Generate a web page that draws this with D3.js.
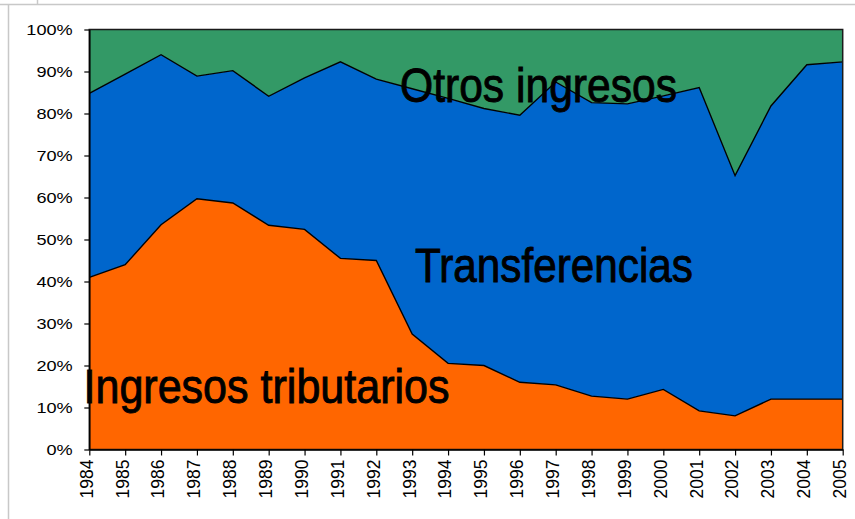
<!DOCTYPE html>
<html>
<head>
<meta charset="utf-8">
<script src="https://cdn.jsdelivr.net/npm/d3@7"></script>
<style>
  body { margin: 0; background: #fff; }
  svg { display: block; }
</style>
</head>
<body>
<div class="chart"></div>
<script>
const width = 855;
const height = 519;
const padLeft = 89.3, padRight = 842.7, padTop = 29.5, padBottom = 449.5;

// valores (% del total)
const years = [1984, 1985, 1986, 1987, 1988, 1989, 1990, 1991, 1992, 1993, 1994,
  1995, 1996, 1997, 1998, 1999, 2000, 2001, 2002, 2003, 2004, 2005];
const tributarios = [41.0, 44.0, 53.5, 59.7, 58.7, 53.4, 52.4, 45.5, 45.0, 27.5, 20.5,
  20.0, 16.0, 15.4, 12.7, 12.0, 14.3, 9.2, 8.0, 12.0, 12.0, 12.0];
const transferencias = [43.8, 45.4, 40.5, 29.2, 31.5, 30.7, 36.1, 46.8, 43.2, 58.4, 63.1,
  61.2, 63.6, 72.1, 69.9, 70.3, 69.9, 77.0, 57.2, 69.8, 79.6, 80.3];
const otros = [15.2, 10.6, 6.0, 11.1, 9.8, 15.9, 11.5, 7.7, 11.8, 14.1, 16.4,
  18.8, 20.4, 12.5, 17.4, 17.7, 15.8, 13.8, 34.8, 18.2, 8.4, 7.7];
const yTicks = [0, 0.1, 0.2, 0.3, 0.4, 0.5, 0.6, 0.7, 0.8, 0.9, 1];

const keys = ["tributarios", "transferencias", "otros"];
const colors = { tributarios: "#ff6600", transferencias: "#0066cc", otros: "#339966" };

var rows = years.map((y, i) => {
  return {
    year: y,
    tributarios: tributarios[i],
    transferencias: transferencias[i],
    otros: otros[i],
  };
});

let svg = d3
  .select(".chart")
  .append("svg")
  .attr("width", width)
  .attr("height", height);

// marco gris de la hoja
svg.append("line").attr("x1", 0).attr("x2", width).attr("y1", 4.5).attr("y2", 4.5)
  .attr("stroke", "#c8c8c8").attr("stroke-width", 1.5);
svg.append("line").attr("x1", 8.5).attr("x2", 8.5).attr("y1", 4.5).attr("y2", height)
  .attr("stroke", "#c8c8c8").attr("stroke-width", 1.5);
svg.append("line").attr("x1", 37.5).attr("x2", 37.5).attr("y1", 0).attr("y2", 4.5)
  .attr("stroke", "#c8c8c8").attr("stroke-width", 1.5);

let xScale = d3.scalePoint().domain(years).range([padLeft, padRight]);
let yScale = d3.scaleLinear().domain([0, 1]).range([padBottom, padTop]);

// normalizar al 100%
let stack = d3.stack().keys(keys).offset(d3.stackOffsetExpand);
let series = stack(rows);

let area = d3
  .area()
  .x((d) => xScale(d.data.year))
  .y0((d) => yScale(d[0]))
  .y1((d) => yScale(d[1]));

let line = d3
  .line()
  .x((d) => xScale(d.data.year))
  .y((d) => yScale(d[1]));

svg
  .append("g")
  .selectAll("path")
  .data(series)
  .enter()
  .append("path")
  .attr("d", area)
  .attr("fill", (d) => colors[d.key]);

svg
  .append("g")
  .selectAll("path")
  .data(series.slice(0, 2))
  .enter()
  .append("path")
  .attr("d", line)
  .attr("fill", "none")
  .attr("stroke", "#000")
  .attr("stroke-width", 1.4);

// borde del area de trazado
svg
  .append("rect")
  .attr("x", padLeft)
  .attr("y", padTop)
  .attr("width", padRight - padLeft)
  .attr("height", padBottom - padTop)
  .attr("fill", "none")
  .attr("stroke", "#1a1a1a")
  .attr("stroke-width", 1.5);

// eje Y
let yAxis = d3.axisLeft(yScale).tickValues(yTicks).tickFormat(d3.format(".0%")).tickSize(5).tickSizeOuter(0);
let gy = svg.append("g").attr("transform", "translate(" + padLeft + ",0)").call(yAxis);
gy.select(".domain").attr("stroke", "#000").attr("stroke-width", 1.5);
gy.selectAll(".tick line").attr("stroke", "#000").attr("stroke-width", 1.2);
gy.selectAll(".tick text")
  .attr("x", 0)
  .attr("dy", "0.36em")
  .attr("transform", "translate(-16.6,0) scale(1.25,1)")
  .attr("font-family", "'Liberation Sans', Arial, sans-serif")
  .attr("font-size", 14.5)
  .attr("fill", "#000");

// eje X
let xAxis = d3.axisBottom(xScale).tickSize(6).tickSizeOuter(0);
let gx = svg.append("g").attr("transform", "translate(0," + padBottom + ")").call(xAxis);
gx.select(".domain").attr("stroke", "#000").attr("stroke-width", 1.5);
gx.selectAll(".tick line").attr("stroke", "#000").attr("stroke-width", 1.2);
gx.selectAll(".tick text")
  .attr("x", 0)
  .attr("y", 0)
  .attr("dy", "0.36em")
  .attr("text-anchor", "end")
  .attr("transform", "translate(-3.4,10) rotate(-90)")
  .attr("font-family", "'Liberation Sans', Arial, sans-serif")
  .attr("font-size", 17.5)
  .attr("fill", "#000");

// rotulos de series
const labels = [
  { text: "Otros ingresos", x: 400, y: 101.5, w: 277 },
  { text: "Transferencias", x: 415, y: 282, w: 278 },
  { text: "Ingresos tributarios", x: 83.5, y: 402.5, w: 366 },
];
svg
  .append("g")
  .selectAll("text")
  .data(labels)
  .enter()
  .append("text")
  .attr("x", (d) => d.x)
  .attr("y", (d) => d.y)
  .attr("textLength", (d) => d.w)
  .attr("lengthAdjust", "spacingAndGlyphs")
  .attr("font-family", "'Liberation Sans Narrow', 'Arial Narrow', 'Liberation Sans', sans-serif")
  .attr("font-size", 47.5)
  .attr("fill", "#000")
  .attr("stroke", "#000")
  .attr("stroke-width", 0.9)
  .text((d) => d.text);
</script>
</body>
</html>
